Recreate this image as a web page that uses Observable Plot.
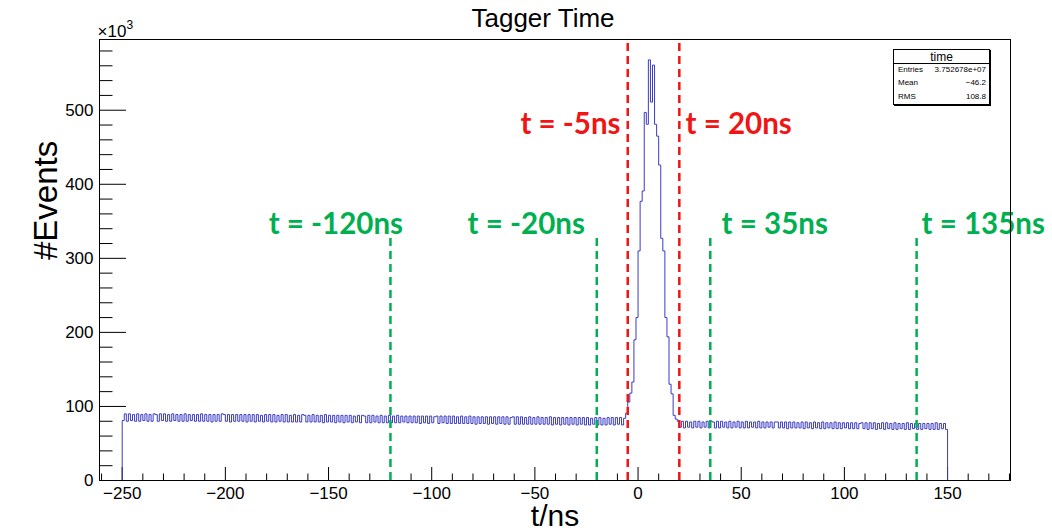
<!DOCTYPE html>
<html>
<head>
<meta charset="utf-8">
<script src="https://cdn.jsdelivr.net/npm/d3@7"></script>
<script src="https://cdn.jsdelivr.net/npm/@observablehq/plot@0.6"></script>
<style>
  html, body { margin: 0; padding: 0; background: #fff; }
  #wrap { position: relative; width: 1052px; height: 531px; overflow: hidden; background: #fff; }
  #stats { position: absolute; left: 893px; top: 49px; width: 95px; height: 54px; border: 1px solid #000; background: #fff;
           font-family: "Liberation Sans", Arial, sans-serif; color: #000; box-shadow: 1px 1px 0 #000; }
  #stats .ttl { position: absolute; left: 0; right: 0; top: 0; height: 13px; border-bottom: 1px solid #000; text-align: center; font-size: 12px; line-height: 14px; }
  #stats .row { position: absolute; left: 4px; right: 3px; height: 12px; font-size: 8px; line-height: 12px; }
  #stats .row .v { position: absolute; right: 0; top: 0; }
</style>
</head>
<body>
<div id="wrap"></div>
<script>
// ---- data (counts in units of 10^3 per 1 ns bin) ----
const binStart = -250;   // first bin lower edge (ns)
const binWidth = 1;      // ns

// baseline before the prompt peak, bins -250 .. -7
const leftBaseline = [
  81,90,80,90,81,89,80,90,80,89,81,90,80,89,80,90,89,80,90,81,
  90,80,89,80,90,81,89,80,89,80,90,80,89,81,89,80,89,80,90,80,
  89,80,89,79,89,80,89,80,90,89,80,89,79,89,80,89,80,89,80,89,
  79,89,80,89,79,89,80,88,79,89,80,89,79,89,79,88,80,89,79,89,
  79,88,79,89,79,88,79,89,88,79,88,79,89,79,88,79,88,78,89,79,
  88,79,88,78,88,79,88,78,88,79,88,78,87,79,88,78,88,87,78,88,
  78,88,79,87,78,88,78,87,78,88,78,87,78,88,78,87,79,87,78,87,
  78,87,78,87,77,87,78,87,77,87,78,86,87,77,87,78,87,77,87,77,
  87,77,86,77,87,77,86,77,87,77,86,76,86,77,86,77,86,76,86,77,
  86,76,86,77,86,76,86,76,85,86,76,86,76,86,76,85,76,86,76,85,
  76,86,76,85,76,85,76,86,75,85,76,85,75,85,76,85,75,85,76,85,
  75,85,76,85,75,85,75,84,76,85,75,85,75,84,75,85,76,85,75,85,
  76,85,75,84
];
// prompt peak, bins -6 .. 18
const peakCounts = [
  91,106,118,133,190,220,310,377,391,497,481,568,511,561,481,465,426,327,310,220,194,130,117,88,83
];
// baseline after the peak, bins 19 .. 149
const rightBaseline = [
  80,72,80,71,80,72,79,71,80,72,80,71,79,72,80,71,80,79,71,80,
  71,80,72,79,71,80,71,79,72,80,71,79,71,80,71,79,72,79,71,80,
  71,79,71,79,72,79,71,79,79,71,79,71,79,70,79,71,79,71,78,71,
  79,70,79,71,78,70,79,71,78,70,79,70,78,71,78,70,79,70,78,70,
  78,71,78,70,78,70,78,70,77,78,70,78,69,78,70,78,69,77,70,78,
  69,78,70,77,69,78,69,77,70,77,69,78,69,77,70,77,69,77,69,77,
  70,77,69,77,69,78,69,77,70,77,69
];

const redCuts = [-5, 20];
const greenCuts = [-120, -20, 35, 135];
const greenTop = 330;
const redLabels = [
  {text: "t = -5ns", t: -57, v: 480},
  {text: "t = 20ns", t: 23, v: 480}
];
const greenLabels = [
  {text: "t = -120ns", t: -179, v: 346},
  {text: "t = -20ns", t: -82.6, v: 346},
  {text: "t = 35ns", t: 40.5, v: 346},
  {text: "t = 135ns", t: 137.4, v: 346}
];

const xMajor = [-250, -200, -150, -100, -50, 0, 50, 100, 150];
const xTickLabels = ["\u2212250", "\u2212200", "\u2212150", "\u2212100", "\u221250", "0", "50", "100", "150"];
const yMajor = [0, 100, 200, 300, 400, 500];
const yTickLabels = ["0", "100", "200", "300", "400", "500"];
const xDomain = [-261, 180.5];
const yDomain = [0, 595.5];

const statsTitle = "time";
const statsRows = [["Entries", "3.752678e+07"], ["Mean", "\u221246.2"], ["RMS", "108.8"]];

// ---- build ----
const counts = [...leftBaseline, ...peakCounts, ...rightBaseline];
const nBins = counts.length;
const binEnd = binStart + nBins * binWidth;
const points = [{t: binStart, v: 0}]
  .concat(counts.map((v, i) => ({t: binStart + i * binWidth, v})))
  .concat([{t: binEnd, v: counts[nBins - 1]}, {t: binEnd, v: 0}]);

const W = 1052, H = 531;
const mL = 99, mR = 42, mT = 39, mB = 51;
const frameW = W - mL - mR, frameH = H - mT - mB;

const xMinor = d3.range(-260, 181, 10).filter(d => !xMajor.includes(d));
const yMinor = d3.range(0, 595, 20).filter(d => !yMajor.includes(d));

const labelFont = "Lato, 'Open Sans', sans-serif";

const chart = Plot.plot({
  width: W, height: H,
  marginLeft: mL, marginRight: mR, marginTop: mT, marginBottom: mB,
  x: {domain: xDomain},
  y: {domain: yDomain},
  style: {fontFamily: "'Liberation Sans', Arial, sans-serif", background: "#fff", overflow: "visible", color: "#000"},
  marks: [
    // ticks (inward, ROOT style)
    Plot.tickX(xMajor, {x: d => d, insetTop: frameH - 13, stroke: "#000", strokeWidth: 1}),
    Plot.tickX(xMinor, {x: d => d, insetTop: frameH - 6.5, stroke: "#000", strokeWidth: 1}),
    Plot.tickY(yMajor, {y: d => d, insetRight: frameW - 27, stroke: "#000", strokeWidth: 1}),
    Plot.tickY(yMinor, {y: d => d, insetRight: frameW - 13.5, stroke: "#000", strokeWidth: 1}),
    // histogram
    Plot.line(points, {x: "t", y: "v", curve: "step-after", stroke: "#3b3bc4", strokeWidth: 1}),
    // cut lines
    Plot.ruleX(greenCuts, {x: d => d, y1: 0, y2: greenTop, stroke: "#00b050", strokeWidth: 2.5, strokeDasharray: "8,5"}),
    Plot.ruleX(redCuts, {x: d => d, y1: 0, y2: yDomain[1], stroke: "#f01414", strokeWidth: 2.5, strokeDasharray: "8,5"}),
    // cut labels
    Plot.text(redLabels, {x: "t", y: "v", text: "text", textAnchor: "start", lineAnchor: "middle", fill: "#f01414",
      fontFamily: labelFont, fontWeight: "bold", fontSize: 29.5}),
    Plot.text(greenLabels, {x: "t", y: "v", text: "text", textAnchor: "start", lineAnchor: "middle", fill: "#00b050",
      fontFamily: labelFont, fontWeight: "bold", fontSize: 29.5}),
    // frame
    Plot.frame({stroke: "#000", strokeWidth: 1}),
    // axes labels
    Plot.axisX(xMajor, {tickSize: 0, tickPadding: 6, fontSize: 17, label: null,
      tickFormat: (d) => xTickLabels[xMajor.indexOf(d)]}),
    Plot.axisY(yMajor, {tickSize: 0, tickPadding: 6, fontSize: 17, label: null,
      tickFormat: (d) => yTickLabels[yMajor.indexOf(d)]}),
    // titles
    Plot.text(["Tagger Time"], {frameAnchor: "top", dx: -12, dy: -21, fontSize: 26, lineAnchor: "middle", fill: "#000"}),
    Plot.text(["t/ns"], {frameAnchor: "bottom", dy: 36, fontSize: 30, lineAnchor: "middle", fill: "#000"}),
    Plot.text(["#Events"], {frameAnchor: "left", dx: -53, rotate: -90, fontSize: 33, lineAnchor: "middle", fill: "#000"}),
    Plot.text(["\u00d710"], {frameAnchor: "top-left", dx: -2, dy: -8, textAnchor: "start", lineAnchor: "middle", fontSize: 17, fill: "#000"}),
    Plot.text(["3"], {frameAnchor: "top-left", dx: 27, dy: -14, textAnchor: "start", lineAnchor: "middle", fontSize: 12, fill: "#000"})
  ]
});

const wrap = document.getElementById("wrap");
wrap.appendChild(chart);

// stats box (ROOT TPaveStats)
const box = document.createElement("div");
box.id = "stats";
const ttl = document.createElement("div");
ttl.className = "ttl";
ttl.textContent = statsTitle;
box.appendChild(ttl);
statsRows.forEach((r, i) => {
  const row = document.createElement("div");
  row.className = "row";
  row.style.top = (14 + i * 13.3) + "px";
  const k = document.createElement("span"); k.textContent = r[0];
  const v = document.createElement("span"); v.className = "v"; v.textContent = r[1];
  row.appendChild(k); row.appendChild(v);
  box.appendChild(row);
});
wrap.appendChild(box);
</script>
</body>
</html>
